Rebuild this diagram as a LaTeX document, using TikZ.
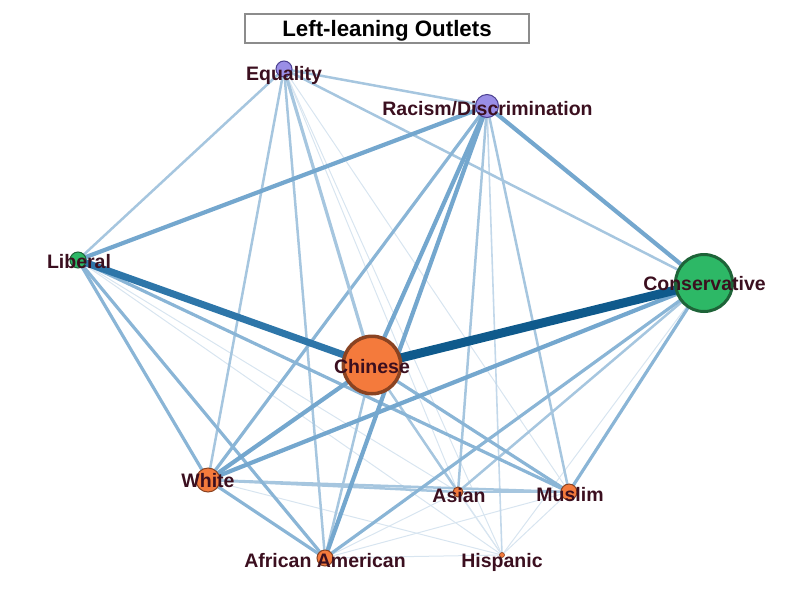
\documentclass[tikz,border=0pt]{standalone}
\usepackage{fontspec}
\setmainfont{Liberation Sans}
\usetikzlibrary{backgrounds}
\definecolor{c9}{HTML}{0F5A8C}
\definecolor{c7}{HTML}{2E76A9}
\definecolor{c4}{HTML}{74A7CE}
\definecolor{c3}{HTML}{8AB5D6}
\definecolor{c2}{HTML}{A6C6DF}
\definecolor{cl}{HTML}{C3D8EA}
\definecolor{cf}{HTML}{D8E5F0}
\definecolor{orfill}{HTML}{F47A3C}
\definecolor{ordraw}{HTML}{8A4322}
\definecolor{grfill}{HTML}{2DB866}
\definecolor{grdraw}{HTML}{1E6338}
\definecolor{pufill}{HTML}{9A8EE6}
\definecolor{pudraw}{HTML}{4B4090}
\definecolor{lbltext}{HTML}{3B0F1F}
\definecolor{titlebox}{HTML}{8C8C8C}
\tikzset{
  w9/.style={draw=c9,line width=9pt},
  w7/.style={draw=c7,line width=7pt},
  w4/.style={draw=c4,line width=4.2pt},
  w3/.style={draw=c3,line width=3.2pt},
  w2/.style={draw=c2,line width=2.5pt},
  wl/.style={draw=cl,line width=1.6pt},
  wf/.style={draw=cf,line width=1pt},
  dot/.style={circle,inner sep=0pt,line width=1pt},
  orange/.style={dot,fill=orfill,draw=ordraw},
  green/.style={dot,fill=grfill,draw=grdraw},
  purple/.style={dot,fill=pufill,draw=pudraw},
  lbl/.style={anchor=base,inner sep=0pt,text=lbltext,font=\fontsize{19.5}{20}\selectfont\bfseries},
}
\begin{document}
\begin{tikzpicture}[x=1pt,y=-1pt]
\useasboundingbox (0,0) rectangle (800,595);
% title
\node[draw=titlebox,line width=2pt,minimum width=284pt,minimum height=29pt,inner sep=0pt] (tbox) at (387,28.5) {};
\node[anchor=base,inner sep=0pt,font=\fontsize{22.3}{23}\selectfont\bfseries] (ttext) at (387,36) {Left-leaning Outlets};
% nodes
\node[purple,minimum size=16pt] (eq) at (284,69) {};
\node[purple,minimum size=23pt] (ra) at (487,106) {};
\node[green,minimum size=16pt] (li) at (78,260) {};
\node[green,minimum size=57pt,line width=3pt] (co) at (704,283) {};
\node[orange,minimum size=57.5pt,line width=3.5pt] (ch) at (372,365) {};
\node[orange,minimum size=24pt] (wh) at (208,480) {};
\node[orange,minimum size=10pt] (as) at (458,492) {};
\node[orange,minimum size=16pt] (mu) at (569,492) {};
\node[orange,minimum size=16pt] (af) at (325,558) {};
\node[orange,minimum size=5pt,line width=0.6pt] (hi) at (502,555) {};
% edges
\begin{pgfonlayer}{background}
\draw[wf] (eq.center) -- (as.center);
\draw[wf] (eq.center) -- (hi.center);
\draw[wf] (eq.center) -- (mu.center);
\draw[wf] (li.center) -- (as.center);
\draw[wf] (li.center) -- (hi.center);
\draw[wf] (co.center) -- (hi.center);
\draw[wf] (ch.center) -- (hi.center);
\draw[wf] (wh.center) -- (hi.center);
\draw[wf] (af.center) -- (as.center);
\draw[wf] (af.center) -- (mu.center);
\draw[wf] (af.center) -- (hi.center);
\draw[wf] (as.center) -- (hi.center);
\draw[wf] (mu.center) -- (hi.center);
\draw[wl] (ra.center) -- (hi.center);
\draw[w2] (eq.center) -- (li.center);
\draw[w2] (eq.center) -- (co.center);
\draw[w2] (eq.center) -- (wh.center);
\draw[w2] (eq.center) -- (af.center);
\draw[w2] (eq.center) -- (ra.center);
\draw[w2] (ra.center) -- (as.center);
\draw[w2] (ra.center) -- (mu.center);
\draw[w2] (wh.center) -- (as.center);
\draw[w2] (wh.center) -- (mu.center);
\draw[w2] (as.center) -- (mu.center);
\draw[w2] (co.center) -- (as.center);
\draw[w2] (ch.center) -- (as.center);
\draw[w2] (ch.center) -- (af.center);
\draw[w3] (ra.center) -- (wh.center);
\draw[w3] (co.center) -- (mu.center);
\draw[w3] (co.center) -- (af.center);
\draw[w3] (li.center) -- (wh.center);
\draw[w3] (li.center) -- (af.center);
\draw[w3] (li.center) -- (mu.center);
\draw[w3,draw=c2] (eq.center) -- (ch.center);
\draw[w3] (ch.center) -- (mu.center);
\draw[w3] (wh.center) -- (af.center);
\draw[w4] (li.center) -- (ra.center);
\draw[w4] (ra.center) -- (co.center);
\draw[w4] (ra.center) -- (ch.center);
\draw[w4] (ra.center) -- (af.center);
\draw[w4] (wh.center) -- (ch.center);
\draw[w4] (wh.center) -- (co.center);
\draw[w7] (li.center) -- (ch.center);
\draw[w9] (ch.center) -- (co.center);
\end{pgfonlayer}
% labels
\node[lbl] (leq) at (284,80) {Equality};
\node[lbl] (lra) at (487.5,115) {Racism/Discrimination};
\node[lbl] (lli) at (79,268) {Liberal};
\node[lbl] (lco) at (704.5,290) {Conservative};
\node[lbl] (lch) at (372,373) {Chinese};
\node[lbl] (lwh) at (208,487) {White};
\node[lbl] (las) at (459,502) {Asian};
\node[lbl] (lmu) at (570,501) {Muslim};
\node[lbl] (laf) at (325,567) {African American};
\node[lbl] (lhi) at (502,567) {Hispanic};
\end{tikzpicture}
\end{document}
